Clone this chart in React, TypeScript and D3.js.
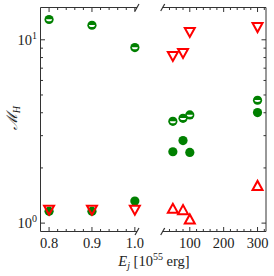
import React from 'react';
import * as d3 from 'd3';

// left panel: E_j in 1e55 erg (0.8-1.0), right panel: 50-300
const leftE = [0.8, 0.9, 1.0];
const rightE = [50, 80, 100, 300];

const halfGreenLeft = [12.9, 12.0, 9.07];
const halfGreenRight = [3.59, 3.73, 3.89, 4.68];
const fullGreenLeft = [1.16, 1.16, 1.32];
const fullGreenRight = [2.45, 2.82, 2.43, 4.01];
const downRedLeft = [1.18, 1.18, 1.18];
const downRedRight = [8.13, 8.45, 11.0, 11.7];
const upRedRight = [1.2, 1.18, 1.05, 1.6];

const leftTicks = [0.8, 0.9, 1.0];
const leftTickLabels = ['0.8', '0.9', '1.0'];
const rightTicks = [100, 200, 300];
const rightTickLabels = ['100', '200', '300'];
const yTicks = [1, 10];
const yTickExp = ['0', '1'];

const GREEN = '#008000';
const RED = '#ff0000';
const AX = '#333';
const FONT = '"Liberation Serif", "DejaVu Serif", serif';

const TOP = 7.5;
const BOTTOM = 231.5;
const L0 = 40.5, L1 = 137;
const R0 = 162.7, R1 = 266;

export default function App() {
  const xL = d3.scaleLinear().domain([0.78, 1.005]).range([L0, L1]);
  const xR = d3.scaleLinear().domain([20, 325]).range([R0, R1]);
  const y = d3.scaleLog().domain([0.9, 15]).range([BOTTOM, TOP]);

  const leftMinor = d3.range(0.82, 0.99, 0.02).filter((v) => !leftTicks.some((t) => Math.abs(t - v) < 1e-6));
  const rightMinor = d3.range(40, 321, 20).filter((v) => v % 100 !== 0);
  const yMinor = [2, 3, 4, 5, 6, 7, 8, 9];

  const MAJ = 4.5, MIN = 2.5;

  const halfCircle = (cx: number, cy: number, k: string) => (
    <g key={k}>
      <circle cx={cx} cy={cy} r={4.6} fill={GREEN} />
      <path d={`M${cx - 3},${cy - 0.2} A3,2 0 0 0 ${cx + 3},${cy - 0.2} Z`} fill="#fff" />
    </g>
  );
  const tri = (cx: number, cy: number, down: boolean, k: string) => {
    const h = 4.2, w = 5;
    const d = down
      ? `M${cx - w},${cy - h} L${cx + w},${cy - h} L${cx},${cy + h + 0.6} Z`
      : `M${cx - w},${cy + h} L${cx + w},${cy + h} L${cx},${cy - h - 0.6} Z`;
    return <path key={k} d={d} fill="none" stroke={RED} strokeWidth={2} strokeLinejoin="miter" />;
  };
  const brk = (x: number, yy: number, k: string) => (
    <line key={k} x1={x - 2} y1={yy + 3.5} x2={x + 2} y2={yy - 3.5} stroke={AX} strokeWidth={1.2} />
  );

  return (
    <div style={{ position: 'fixed', left: 0, top: 0 }}>
      <svg width={274} height={276} style={{ display: 'block', background: '#fff' }}>
        {/* spines */}
        <g stroke={AX} strokeWidth={1} fill="none">
          <line x1={L0} y1={TOP} x2={L1} y2={TOP} />
          <line x1={L0} y1={BOTTOM} x2={L1} y2={BOTTOM} />
          <line x1={L0} y1={TOP} x2={L0} y2={BOTTOM} />
          <line x1={R0} y1={TOP} x2={R1} y2={TOP} />
          <line x1={R0} y1={BOTTOM} x2={R1} y2={BOTTOM} />
          <line x1={R1} y1={TOP} x2={R1} y2={BOTTOM} />
        </g>
        {/* x ticks */}
        <g stroke={AX} strokeWidth={1}>
          {leftTicks.map((t) => (
            <g key={'lt' + t}>
              <line x1={xL(t)} x2={xL(t)} y1={BOTTOM} y2={BOTTOM - MAJ} />
              <line x1={xL(t)} x2={xL(t)} y1={TOP} y2={TOP + MAJ} />
            </g>
          ))}
          {leftMinor.map((t) => (
            <g key={'lm' + t}>
              <line x1={xL(t)} x2={xL(t)} y1={BOTTOM} y2={BOTTOM - MIN} />
              <line x1={xL(t)} x2={xL(t)} y1={TOP} y2={TOP + MIN} />
            </g>
          ))}
          {rightTicks.map((t) => (
            <g key={'rt' + t}>
              <line x1={xR(t)} x2={xR(t)} y1={BOTTOM} y2={BOTTOM - MAJ} />
              <line x1={xR(t)} x2={xR(t)} y1={TOP} y2={TOP + MAJ} />
            </g>
          ))}
          {rightMinor.map((t) => (
            <g key={'rm' + t}>
              <line x1={xR(t)} x2={xR(t)} y1={BOTTOM} y2={BOTTOM - MIN} />
              <line x1={xR(t)} x2={xR(t)} y1={TOP} y2={TOP + MIN} />
            </g>
          ))}
          {/* y ticks */}
          {yTicks.map((t) => (
            <g key={'yt' + t}>
              <line x1={L0} x2={L0 + MAJ} y1={y(t)} y2={y(t)} />
              <line x1={R1} x2={R1 - MAJ} y1={y(t)} y2={y(t)} />
            </g>
          ))}
          {yMinor.map((t) => (
            <g key={'ym' + t}>
              <line x1={L0} x2={L0 + MIN} y1={y(t)} y2={y(t)} />
              <line x1={R1} x2={R1 - MIN} y1={y(t)} y2={y(t)} />
            </g>
          ))}
        </g>
        {/* break marks */}
        {brk(L1, TOP, 'b1')}
        {brk(L1, BOTTOM, 'b2')}
        {brk(R0, TOP, 'b3')}
        {brk(R0, BOTTOM, 'b4')}

        {/* tick labels */}
        <g fontFamily={FONT} fontSize={14.5} fill="#222" textAnchor="middle">
          {leftTicks.map((t, i) => (
            <text key={'ll' + t} x={xL(t)} y={248}>{leftTickLabels[i]}</text>
          ))}
          {rightTicks.map((t, i) => (
            <text key={'rl' + t} x={xR(t)} y={248}>{rightTickLabels[i]}</text>
          ))}
        </g>
        <g fontFamily={FONT} fontSize={14.5} fill="#222" textAnchor="end">
          {yTicks.map((t, i) => (
            <text key={'yl' + t} x={37} y={y(t) + 5}>
              10<tspan fontSize={10} dy={-6}>{yTickExp[i]}</tspan>
            </text>
          ))}
        </g>

        {/* axis labels */}
        <text x={154} y={266} fontFamily={FONT} fontSize={14.5} fill="#222" textAnchor="middle">
          <tspan fontStyle="italic">E</tspan>
          <tspan fontStyle="italic" fontSize={10} dy={3}>j</tspan>
          <tspan dy={-3}> [10</tspan>
          <tspan fontSize={10} dy={-6}>55</tspan>
          <tspan dy={6}> erg]</tspan>
        </text>
        <text
          transform="translate(17,118) rotate(-90)"
          fontFamily={FONT}
          fontSize={15}
          fill="#222"
          textAnchor="middle"
        >
          <tspan fontStyle="italic">ℳ</tspan>
          <tspan fontStyle="italic" fontSize={10} dy={3}>H</tspan>
        </text>

        {/* data: green */}
        {leftE.map((e, i) => (
          <circle key={'fgl' + i} cx={xL(e)} cy={y(fullGreenLeft[i])} r={4.6} fill={GREEN} />
        ))}
        {rightE.map((e, i) => (
          <circle key={'fgr' + i} cx={xR(e)} cy={y(fullGreenRight[i])} r={4.6} fill={GREEN} />
        ))}
        {leftE.map((e, i) => halfCircle(xL(e), y(halfGreenLeft[i]), 'hgl' + i))}
        {rightE.map((e, i) => halfCircle(xR(e), y(halfGreenRight[i]), 'hgr' + i))}

        {/* data: red */}
        {leftE.map((e, i) => tri(xL(e), y(downRedLeft[i]), true, 'drl' + i))}
        {rightE.map((e, i) => tri(xR(e), y(downRedRight[i]), true, 'drr' + i))}
        {rightE.map((e, i) => tri(xR(e), y(upRedRight[i]), false, 'urr' + i))}
      </svg>
    </div>
  );
}
